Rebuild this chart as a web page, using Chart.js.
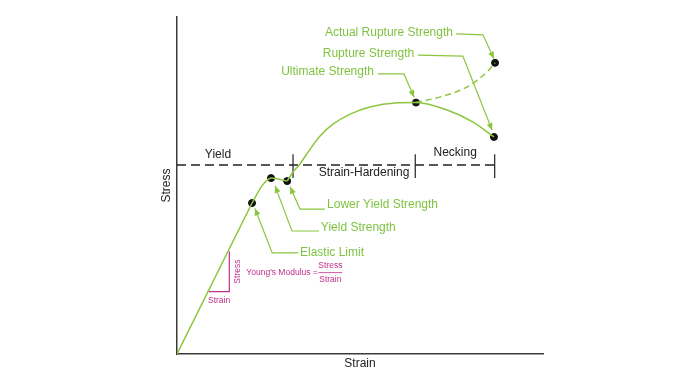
<!DOCTYPE html>
<html>
<head>
<meta charset="utf-8">
<script src="https://cdn.jsdelivr.net/npm/chart.js@4.4.1/dist/chart.umd.min.js"></script>
<style>
  html, body { margin: 0; padding: 0; background: #fff; }
</style>
</head>
<body>
<canvas id="chart" width="700" height="381"></canvas>
<script>
// ── DATA (strain / stress in arbitrary units 0–100) ─────────
const elasticLine = [[0, 0], [20.5, 44.8]];
const yieldCurve = [[20.5, 44.8], [23.2, 49.9], [24.6, 51.5], [25.7, 52.2], [30.1, 51.3]];
const hardeningCurve = [
  [30.1, 51.3], [31.7, 54.0], [33.6, 56.4], [35.8, 59.9], [39.1, 64.7], [42.6, 68.2],
  [47.3, 71.2], [52.7, 73.3], [59.6, 74.5], [65.3, 74.6], [73.8, 72.4], [80.9, 68.8], [86.6, 64.4]
];
const actualCurve = [[65.3, 74.6], [71.9, 76.3], [79.2, 79.2], [84.7, 83.7], [86.9, 86.4]];
const keyPoints = [[20.5, 44.8], [25.7, 52.2], [30.1, 51.3], [65.3, 74.6], [86.6, 64.4], [86.9, 86.4]];

const stageLevel = 56.1;
const stageEnd = 86.8;
const stageTicks = [31.7, 65.1, 86.8];
const tickSpan = [52.2, 59.3];
const stageNames = ['Yield', 'Strain-Hardening', 'Necking'];

const modulusRun = [8.7, 14.3];
const modulusRise = [18.5, 30.4];

const GREEN = '#8cc63f';
const LABEL_GREEN = '#7fc241';
const MAGENTA = '#c2308c';
const INK = '#222';
const FONT = '"Liberation Sans", Arial, sans-serif';

// ── LABEL LAYOUT (data units) ──────────────────────────────
const leaders = [
  { text: 'Actual Rupture Strength', at: [75.4, 95.3], align: 'right',
    path: [[76.2, 95.0], [83.6, 94.7], [86.6, 87.6]] },
  { text: 'Rupture Strength', at: [64.8, 89.0], align: 'right',
    path: [[65.8, 88.7], [78.1, 88.4], [86.1, 66.4]] },
  { text: 'Ultimate Strength', at: [53.8, 83.7], align: 'right',
    path: [[54.9, 83.1], [62.0, 83.1], [64.8, 76.2]] },
  { text: 'Lower Yield Strength', at: [41.0, 44.2], align: 'left',
    path: [[40.4, 43.0], [33.6, 43.0], [30.9, 49.6]] },
  { text: 'Yield Strength', at: [39.3, 37.4], align: 'left',
    path: [[38.8, 36.5], [31.4, 36.5], [26.8, 49.9]] },
  { text: 'Elastic Limit', at: [33.6, 30.0], align: 'left',
    path: [[33.1, 30.0], [26.0, 30.0], [21.3, 43.2]] }
];
const stageLabelAt = [[11.2, 59.1], [51.1, 53.7], [76.0, 59.6]];

const toXY = arr => arr.map(([x, y]) => ({ x, y }));

function drawArrow(ctx, x1, y1, x2, y2) {
  const a = Math.atan2(y2 - y1, x2 - x1);
  const len = 7, w = 3;
  ctx.beginPath();
  ctx.moveTo(x2, y2);
  ctx.lineTo(x2 - len * Math.cos(a) + w * Math.sin(a), y2 - len * Math.sin(a) - w * Math.cos(a));
  ctx.lineTo(x2 - len * Math.cos(a) - w * Math.sin(a), y2 - len * Math.sin(a) + w * Math.cos(a));
  ctx.closePath();
  ctx.fill();
}

const annotate = {
  id: 'annotate',
  afterDatasetsDraw(chart) {
    const { ctx, scales: { x, y } } = chart;
    const px = v => x.getPixelForValue(v);
    const py = v => y.getPixelForValue(v);
    ctx.save();

    // green leaders
    leaders.forEach(l => {
      ctx.strokeStyle = GREEN;
      ctx.fillStyle = GREEN;
      ctx.lineWidth = 1.2;
      ctx.beginPath();
      l.path.forEach(([a, b], i) => i ? ctx.lineTo(px(a), py(b)) : ctx.moveTo(px(a), py(b)));
      ctx.stroke();
      const n = l.path.length;
      drawArrow(ctx, px(l.path[n - 2][0]), py(l.path[n - 2][1]), px(l.path[n - 1][0]), py(l.path[n - 1][1]));
      ctx.fillStyle = LABEL_GREEN;
      ctx.font = '12px ' + FONT;
      ctx.textBaseline = 'middle';
      ctx.textAlign = l.align;
      ctx.fillText(l.text, px(l.at[0]), py(l.at[1]));
    });

    // stage names
    ctx.fillStyle = INK;
    ctx.font = '12px ' + FONT;
    ctx.textAlign = 'center';
    ctx.textBaseline = 'middle';
    stageNames.forEach((s, i) => ctx.fillText(s, px(stageLabelAt[i][0]), py(stageLabelAt[i][1])));

    // young's modulus note
    ctx.fillStyle = MAGENTA;
    ctx.font = '8.5px ' + FONT;
    ctx.fillText('Strain', px((modulusRun[0] + modulusRun[1]) / 2), py(modulusRise[0]) + 9);
    const ny = py((modulusRise[0] + modulusRise[1]) / 2);
    ctx.save();
    ctx.translate(px(modulusRun[1]) + 8, ny);
    ctx.rotate(-Math.PI / 2);
    ctx.fillText('Stress', 0, 0);
    ctx.restore();
    ctx.textAlign = 'left';
    ctx.fillText("Young's Modulus =", px(modulusRun[1]) + 17, ny + 1);
    const fx = px(modulusRun[1]) + 101;
    ctx.textAlign = 'center';
    ctx.fillText('Stress', fx, ny - 6);
    ctx.fillText('Strain', fx, ny + 8);
    ctx.strokeStyle = MAGENTA;
    ctx.lineWidth = 0.8;
    ctx.beginPath();
    ctx.moveTo(fx - 12, ny + 1);
    ctx.lineTo(fx + 12, ny + 1);
    ctx.stroke();

    ctx.restore();
  }
};

const stageTickData = [];
stageTicks.forEach(t => {
  stageTickData.push({ x: t, y: tickSpan[0] }, { x: t, y: tickSpan[1] }, { x: t, y: null });
});

const curveStyle = { showLine: true, borderColor: GREEN, borderWidth: 1.5, pointRadius: 0, cubicInterpolationMode: 'monotone' };

new Chart(document.getElementById('chart'), {
  type: 'scatter',
  data: {
    datasets: [
      { ...curveStyle, data: toXY(elasticLine), cubicInterpolationMode: 'default', tension: 0 },
      { ...curveStyle, data: toXY(yieldCurve) },
      { ...curveStyle, data: toXY(hardeningCurve) },
      { ...curveStyle, data: toXY(actualCurve), borderDash: [6, 4] },
      { data: [{ x: 0, y: stageLevel }, { x: stageEnd, y: stageLevel }], showLine: true,
        borderColor: INK, borderWidth: 1.5, borderDash: [9, 5], pointRadius: 0 },
      { data: stageTickData, showLine: true, spanGaps: false, borderColor: INK, borderWidth: 1.2, pointRadius: 0 },
      { data: [
          { x: modulusRun[0], y: modulusRise[0] },
          { x: modulusRun[1], y: modulusRise[0] },
          { x: modulusRun[1], y: modulusRise[1] }
        ], showLine: true, borderColor: MAGENTA, borderWidth: 1.2, pointRadius: 0 },
      { data: toXY(keyPoints), pointRadius: 3.5, pointBackgroundColor: '#111', pointBorderColor: '#111' }
    ]
  },
  options: {
    responsive: false,
    animation: false,
    layout: { padding: { left: 157, top: 17, right: 157, bottom: 0 } },
    plugins: { legend: { display: false }, tooltip: { enabled: false } },
    scales: {
      x: {
        min: 0, max: 100,
        afterFit: s => { s.height = 27; },
        grid: { display: false, drawTicks: false },
        ticks: { display: false },
        border: { display: true, color: '#3a3a3a', width: 1.5 },
        title: { display: true, text: 'Strain', color: INK, font: { family: FONT, size: 12 }, padding: { top: 0, bottom: 10 } }
      },
      y: {
        min: 0, max: 100,
        afterFit: s => { s.width = 20; },
        grid: { display: false, drawTicks: false },
        ticks: { display: false },
        border: { display: true, color: '#3a3a3a', width: 1.5 },
        title: { display: true, text: 'Stress', color: INK, font: { family: FONT, size: 12 }, padding: { top: 2, bottom: 0 } }
      }
    }
  },
  plugins: [annotate]
});
</script>
</body>
</html>
